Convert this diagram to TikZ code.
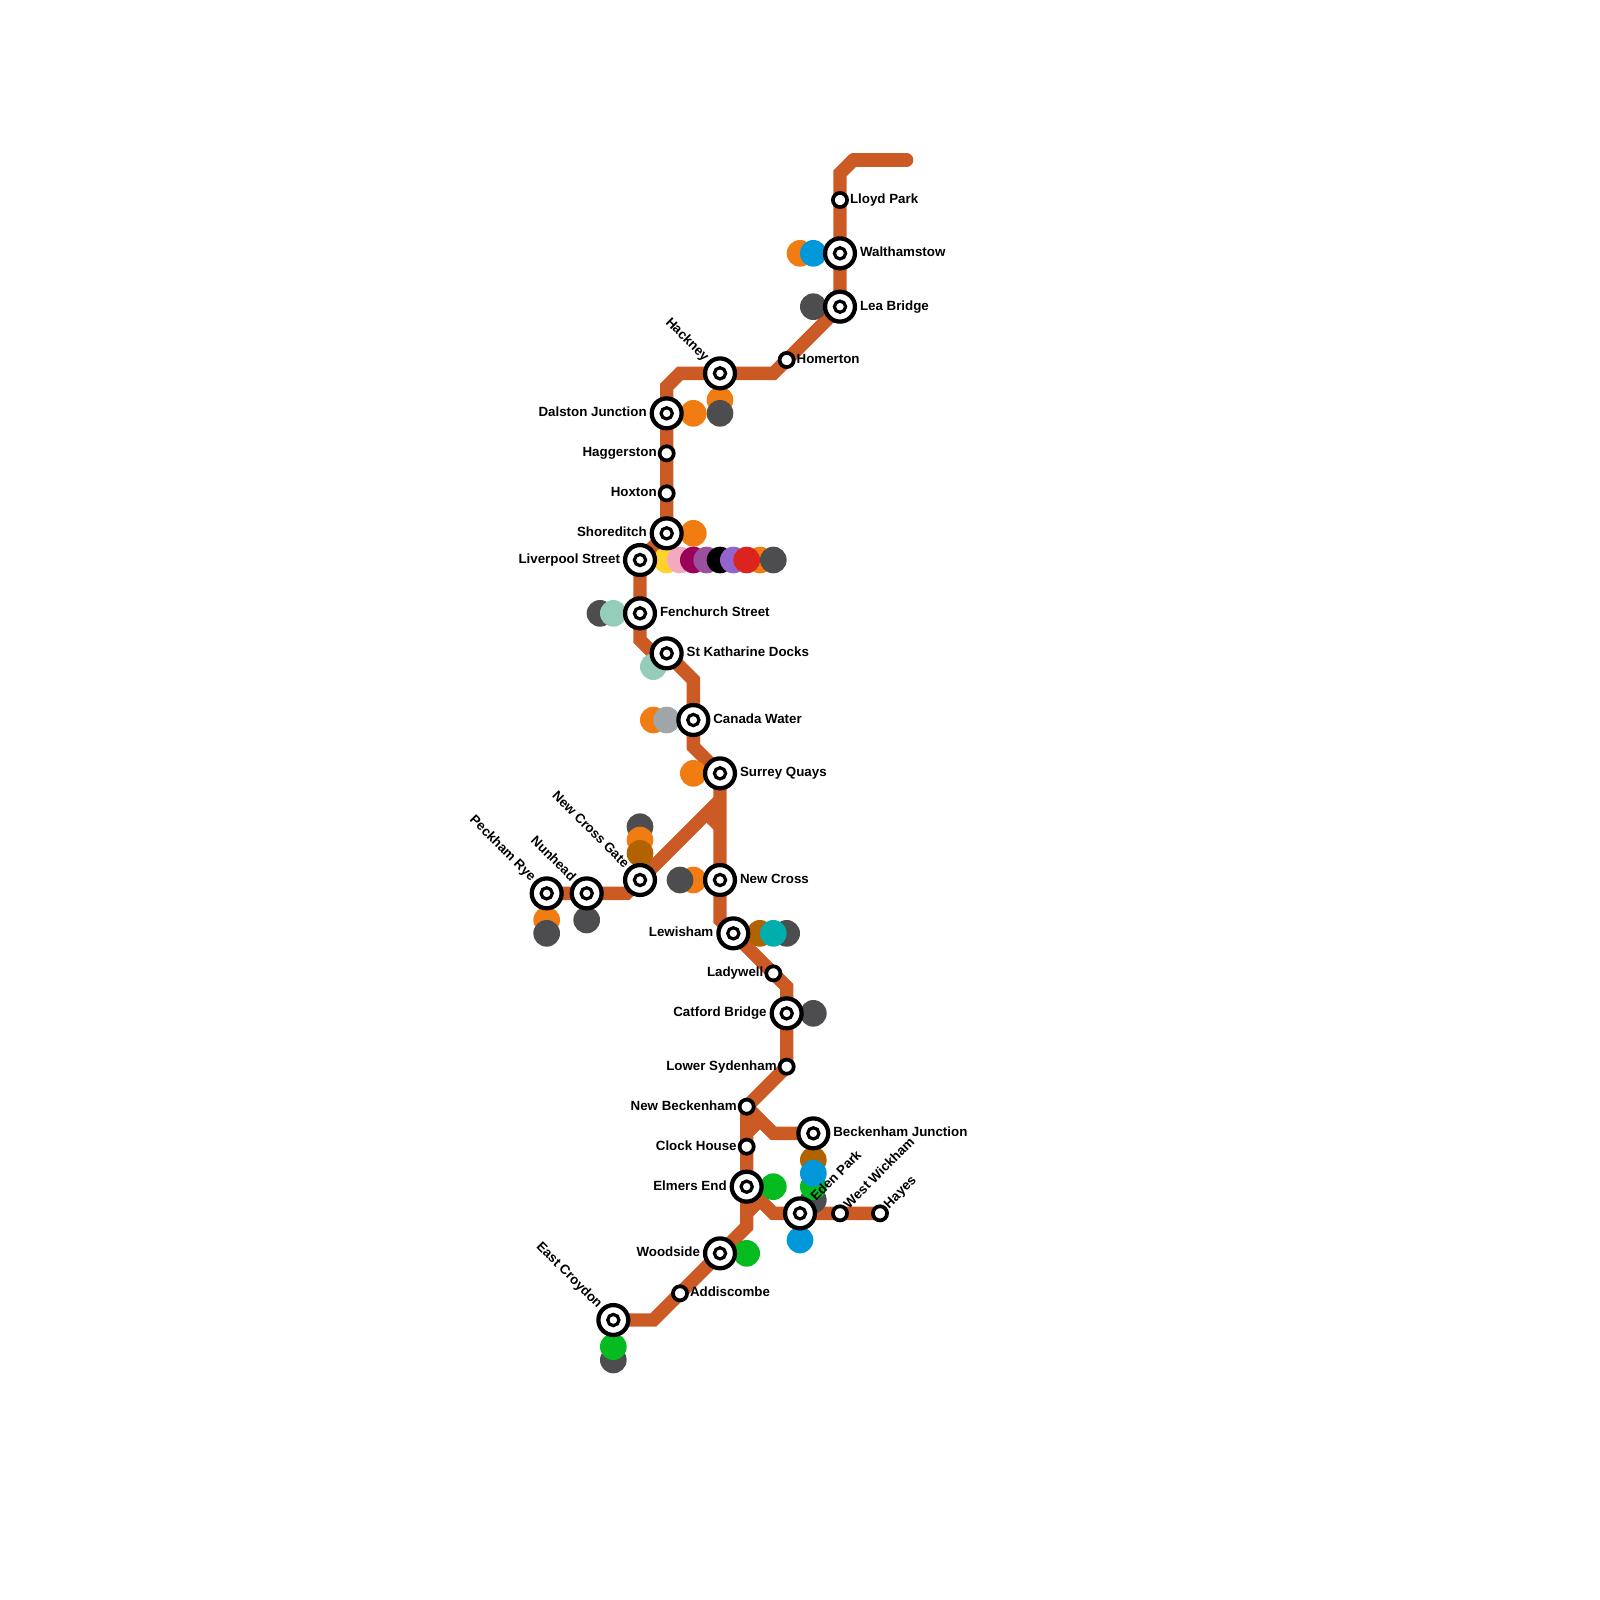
\documentclass[tikz,border=0pt]{standalone}
\usepackage{fontspec}
\setmainfont{Liberation Sans}
\usetikzlibrary{backgrounds}
\definecolor{overground}{HTML}{CB5A25}
\definecolor{tuborange}{HTML}{F07C12}
\definecolor{tubgrey}{HTML}{4D4D4F}
\definecolor{tubblue}{HTML}{0098D8}
\definecolor{tramgreen}{HTML}{05BB1F}
\definecolor{tubbrown}{HTML}{B26300}
\definecolor{tubmint}{HTML}{95CDBA}
\definecolor{tubsilver}{HTML}{A0A5A9}
\definecolor{tubteal}{HTML}{00AFAD}
\definecolor{tubyellow}{HTML}{FFD329}
\definecolor{tubpink}{HTML}{F4A9BE}
\definecolor{tubcrimson}{HTML}{9B0058}
\definecolor{tubpurple}{HTML}{9B4F9F}
\definecolor{tubviolet}{HTML}{9364CC}
\definecolor{tubred}{HTML}{DC241F}
\tikzset{
  metroline/.style={draw=overground, line width=10pt, line join=miter},
  hub/.style={circle, draw=black, fill=white, line width=3.2pt, inner sep=0pt, minimum size=22.4pt,
    path picture={\draw[black, line width=2.4pt] (path picture bounding box.center) circle (4.2pt);}},
  halt/.style={circle, draw=black, fill=white, line width=2.8pt, inner sep=0pt, minimum size=10.6pt},
  stationtext/.style={font=\fontsize{10}{12}\selectfont\bfseries, inner sep=0pt, text height=7pt, text depth=2pt},
}
\begin{document}
\begin{tikzpicture}[x=10pt, y=-10pt]
  \useasboundingbox (0,0) rectangle (120,120);
  % Stations with two rings
  \foreach \nm/\x/\y in {walthamstow/63/19, leabridge/63/23, hackney/54/28, dalston/50/31, shoreditch/50/40,
    liverpool/48/42, fenchurch/48/46, katharine/50/49, canada/52/54, surrey/54/58, newcrossgate/48/66,
    newcross/54/66, peckham/41/67, nunhead/44/67, lewisham/55/70, catford/59/76, beckenhamj/61/85,
    elmers/56/89, eden/60/91, woodside/54/94, croydon/46/99}
    \node[hub] (\nm) at (\x,\y) {};
  % Small stations
  \foreach \nm/\x/\y in {lloyd/63/15, homerton/59/27, haggerston/50/34, hoxton/50/37, ladywell/58/73,
    sydenham/59/80, newbeck/56/83, clock/56/86, wickham/63/91, hayes/66/91, addiscombe/51/97}
    \node[halt] (\nm) at (\x,\y) {};
  % Bends of the line
  \foreach \nm/\x/\y in {a/68/12, b/64/12, c/63/13, d/58/28, e/51/28, f/50/29, g/48/48, h/49/49, i/52/51,
    j/52/56, k/54/60, l/53/61, m/54/62, n/47/67, o/54/69, p/59/74, q/58/85, r/57/84, s/56/85, t/58/91,
    u/57/90, v/56/91, w/56/92, x/49/99}
    \coordinate (\nm) at (\x,\y);
  \begin{scope}[on background layer]
    % The line
    \draw[metroline, line cap=round] (a) -- (b);
    \draw[metroline] (b) -- (c) -- (lloyd.center) -- (walthamstow.center) -- (leabridge.center) -- (homerton.center) -- (d) -- (hackney.center) -- (e) -- (f) -- (dalston.center) -- (hoxton.center) -- (shoreditch.center) -- (liverpool.center) -- (fenchurch.center) -- (g) -- (h) -- (katharine.center) -- (i) -- (canada.center) -- (j) -- (surrey.center) -- (newcross.center) -- (o) -- (lewisham.center) -- (p) -- (catford.center) -- (sydenham.center) -- (newbeck.center) -- (elmers.center) -- (w) -- (woodside.center) -- (x) -- (croydon.center);
    \draw[metroline] (peckham.center) -- (n) -- (k);
    \draw[metroline] (l) -- (m);
    \draw[metroline] (newbeck.center) -- (q) -- (beckenhamj.center);
    \draw[metroline] (r) -- (s);
    \draw[metroline] (elmers.center) -- (t) -- (hayes.center);
    \draw[metroline] (u) -- (v);
    % Interchange discs
    \foreach \col/\x/\y in {tuborange/60/19, tubblue/61/19, tubgrey/61/23, tuborange/54/30, tubgrey/54/31,
      tuborange/52/31, tuborange/52/40, tubyellow/50/42, tubpink/51/42, tubcrimson/52/42, tubpurple/53/42,
      black/54/42, tubviolet/55/42, tuborange/57/42, tubred/56/42, tubgrey/58/42, tubgrey/45/46, tubmint/46/46,
      tubmint/49/50, tuborange/49/54, tubsilver/50/54, tuborange/52/58, tubgrey/48/62, tuborange/48/63,
      tubbrown/48/64, tuborange/52/66, tubgrey/51/66, tuborange/41/69, tubgrey/41/70, tubgrey/44/69,
      tubbrown/57/70, tubgrey/59/70, tubteal/58/70, tubgrey/61/76, tubbrown/61/87, tubgrey/61/90,
      tramgreen/61/89, tubblue/61/88, tramgreen/58/89, tubblue/60/93, tramgreen/56/94, tubgrey/46/102,
      tramgreen/46/101}
      \fill[\col] (\x,\y) circle (10pt);
  \end{scope}
  % Names to the right
  \foreach \nm/\txt in {walthamstow/Walthamstow, leabridge/Lea Bridge, fenchurch/Fenchurch Street,
    katharine/St Katharine Docks, canada/Canada Water, surrey/Surrey Quays, newcross/New Cross,
    beckenhamj/Beckenham Junction}
    \node[stationtext, anchor=west, xshift=14.8pt] (\nm-name) at (\nm) {\txt};
  \foreach \nm/\txt in {lloyd/Lloyd Park, homerton/Homerton, addiscombe/Addiscombe}
    \node[stationtext, anchor=west, xshift=7.3pt] (\nm-name) at (\nm) {\txt};
  % Names to the left
  \foreach \nm/\txt in {dalston/Dalston Junction, shoreditch/Shoreditch, liverpool/Liverpool Street,
    lewisham/Lewisham, catford/Catford Bridge, elmers/Elmers End, woodside/Woodside}
    \node[stationtext, anchor=east, xshift=-14.8pt] (\nm-name) at (\nm) {\txt};
  \foreach \nm/\txt in {haggerston/Haggerston, hoxton/Hoxton, ladywell/Ladywell, sydenham/Lower Sydenham,
    newbeck/New Beckenham, clock/Clock House}
    \node[stationtext, anchor=east, xshift=-7.3pt] (\nm-name) at (\nm) {\txt};
  % Slanted names
  \foreach \nm/\txt in {hackney/Hackney, newcrossgate/New Cross Gate, peckham/Peckham Rye, nunhead/Nunhead,
    croydon/East Croydon}
    \node[stationtext, anchor=east, rotate=-45, xshift=-14.4pt] (\nm-name) at (\nm) {\txt};
  \node[stationtext, anchor=west, rotate=45, xshift=14.4pt] (eden-name) at (eden) {Eden Park};
  \foreach \nm/\txt in {wickham/West Wickham, hayes/Hayes}
    \node[stationtext, anchor=west, rotate=45, xshift=6.9pt] (\nm-name) at (\nm) {\txt};
\end{tikzpicture}
\end{document}
